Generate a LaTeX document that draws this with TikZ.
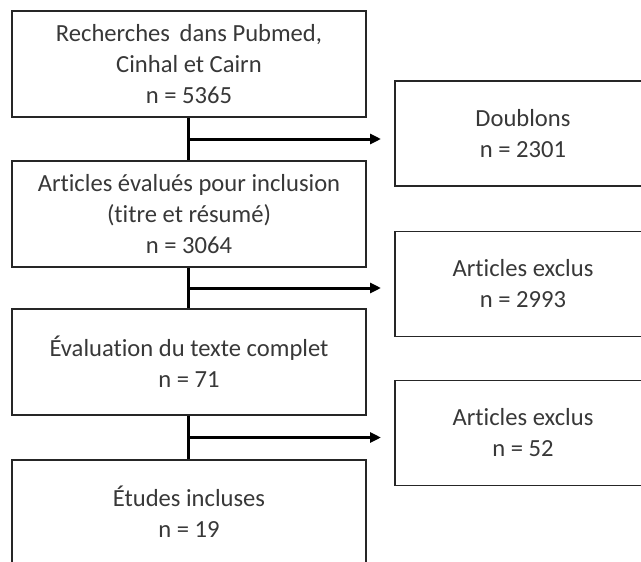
\documentclass[tikz,border=0pt]{standalone}
\usepackage{fontspec}
\setmainfont{Carlito}[Ligatures={NoCommon}]
\usetikzlibrary{arrows.meta}
\begin{document}
\begin{tikzpicture}[x=1pt,y=-1pt,
  box/.style={draw=black!85, line width=1.3pt, fill=white, text=black!78,
    minimum width=354pt, minimum height=106pt, align=center, inner sep=0pt,
    font=\fontsize{24.6}{31}\selectfont},
  sidebox/.style={box, minimum width=256pt, minimum height=105pt},
  flow/.style={line width=3pt, black},
  flowarrow/.style={flow, -{Triangle[length=11pt,width=10pt]}}]
\useasboundingbox (0,0) rectangle (641,562);
\clip (0,0) rectangle (641,562);
\node[box] (b1) at (189,64) {Recherches\, dans Pubmed,\\Cinhal et Cairn\\n = 5365};
\node[box] (b2) at (189,214) {Articles évalués pour inclusion\\(titre et résumé)\\n = 3064};
\node[box] (b3) at (189,362) {Évaluation du texte complet\\n = 71};
\node[box, minimum height=104pt] (b4) at (189,512) {Études incluses\\n = 19};
\node[sidebox] (e1) at (523,133.5) {Doublons\\n = 2301};
\node[sidebox] (e2) at (523,284) {Articles exclus\\n = 2993};
\node[sidebox] (e3) at (523,433) {Articles exclus\\n = 52};
\coordinate (j1) at (188,139);
\coordinate (j2) at (188,288);
\coordinate (j3) at (188,437.5);
\coordinate (t1) at (381,139);
\coordinate (t2) at (381,288);
\coordinate (t3) at (381,437.5);
\draw[flow] (b1.south -| j1) -- (b2.north -| j1);
\draw[flow] (b2.south -| j2) -- (b3.north -| j2);
\draw[flow] (b3.south -| j3) -- (b4.north -| j3);
\draw[flowarrow] (j1) -- (t1);
\draw[flowarrow] (j2) -- (t2);
\draw[flowarrow] (j3) -- (t3);
\end{tikzpicture}
\end{document}
